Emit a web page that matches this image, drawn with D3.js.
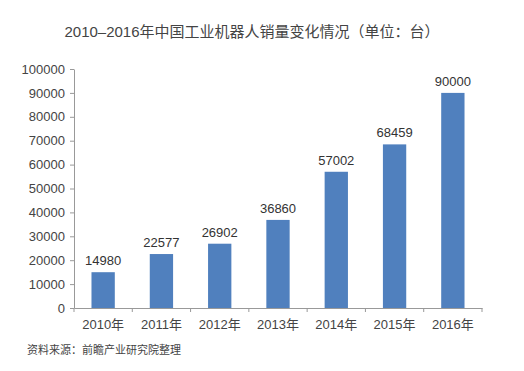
<!DOCTYPE html>
<html>
<head>
<meta charset="utf-8">
<script src="https://cdn.jsdelivr.net/npm/d3@7"></script>
<style>
  body { margin: 0; background: #fff; }
  text { font-family: "Liberation Sans", "Noto Sans CJK SC", sans-serif; }
</style>
</head>
<body>
<div class="container"></div>
<script>
const years = ['2010年', '2011年', '2012年', '2013年', '2014年', '2015年', '2016年']
const sales = [14980, 22577, 26902, 36860, 57002, 68459, 90000]
const yTicks = [0, 10000, 20000, 30000, 40000, 50000, 60000, 70000, 80000, 90000, 100000]

let width = 524
let height = 371
let margin = {top: 69, right: 42, bottom: 63, left: 74}

let svg = d3.select('.container')
    .append('svg')
    .attr('width', width)
    .attr('height', height)

svg.append('text')
    .attr('x', 252)
    .attr('y', 37)
    .attr('text-anchor', 'middle')
    .style('font-size', '15px')
    .style('fill', '#444')
    .text('2010–2016年中国工业机器人销量变化情况（单位：台）')

const x = d3.scaleBand()
    .domain(years)
    .range([margin.left, width - margin.right])
    .paddingInner(0.6)
    .paddingOuter(0.3)

const y = d3.scaleLinear()
    .domain([0, 100000])
    .range([height - margin.bottom, margin.top])

const yAxis = svg.append('g')
    .attr('transform', `translate(${margin.left},0)`)
    .call(d3.axisLeft(y).tickValues(yTicks).tickSize(4).tickSizeOuter(0).tickFormat(d3.format('d')))
yAxis.selectAll('text').style('font-size', '13px').style('fill', '#444').attr('x', -9)

const xAxis = svg.append('g')
    .attr('transform', `translate(0,${height - margin.bottom})`)
    .call(d3.axisBottom(x).tickSize(0).tickSizeOuter(0))
xAxis.selectAll('text').style('font-size', '13px').style('fill', '#444').attr('dy', '1.35em')

// tick marks between categories
const step = x.step()
const edges = d3.range(years.length + 1).map(i => margin.left + i * step)
svg.append('g')
    .selectAll('line')
    .data(edges)
    .join('line')
    .attr('x1', d => d).attr('x2', d => d)
    .attr('y1', height - margin.bottom).attr('y2', height - margin.bottom + 4)
    .attr('stroke', '#999')

svg.selectAll('.domain, .tick line').attr('stroke', '#999')

svg.append('g')
    .selectAll('rect')
    .data(sales)
    .join('rect')
    .attr('x', (d, i) => x(years[i]))
    .attr('y', d => y(d))
    .attr('width', x.bandwidth())
    .attr('height', d => y(0) - y(d))
    .attr('fill', '#5080be')

svg.append('g')
    .selectAll('text')
    .data(sales)
    .join('text')
    .attr('x', (d, i) => x(years[i]) + x.bandwidth() / 2)
    .attr('y', d => y(d) - 7)
    .attr('text-anchor', 'middle')
    .style('font-size', '13px')
    .style('fill', '#333')
    .text(d => d)

svg.append('text')
    .attr('x', 27)
    .attr('y', 354)
    .style('font-size', '11px')
    .style('fill', '#444')
    .text('资料来源：前瞻产业研究院整理')
</script>
</body>
</html>
